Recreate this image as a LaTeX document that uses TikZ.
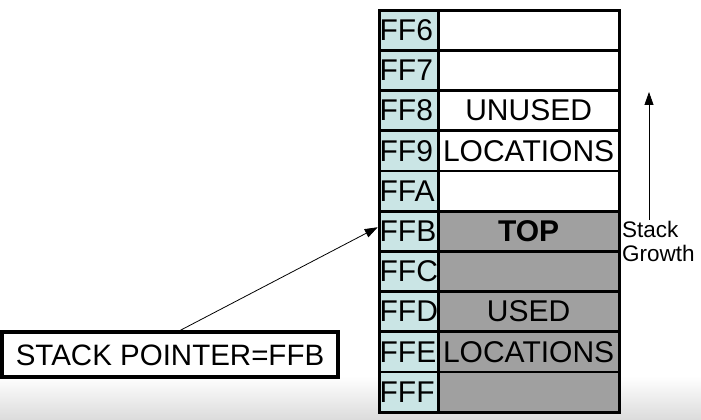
\documentclass[tikz,border=0pt]{standalone}
\usepackage{fontspec}
\setmainfont{Liberation Sans}
\usepackage{tikz}
\usetikzlibrary{positioning,matrix,arrows.meta}
\definecolor{addrcol}{RGB}{202,229,229}
\definecolor{usedcol}{RGB}{160,160,160}
\tikzstyle{arrow}     = [line width=0.8pt,-{Triangle[length=13pt,width=9pt]}]
\tikzstyle{pointer}   = [draw, line width=4pt, minimum width=336pt, minimum height=45pt, font=\fontsize{29.5}{34}\selectfont]

\begin{document}
\begin{tikzpicture}[x=1pt,y=1pt,
			stack/.style={matrix of nodes, line width=2.8pt, nodes={draw, anchor=center, minimum height=40.2pt, inner sep=1pt, font=\fontsize{30}{34}\selectfont},
					column sep=-\pgflinewidth, row sep=-\pgflinewidth, nodes in empty cells,
					column 1/.style={nodes={fill=addrcol, text width=58pt, align=left, inner xsep=0.5pt, font=\fontsize{30}{34}\selectfont}},
					column 2/.style={nodes={fill=white, minimum width=181pt}},
					row 6 column 2/.style={nodes={fill=usedcol}},
					row 7 column 2/.style={nodes={fill=usedcol}},
					row 8 column 2/.style={nodes={fill=usedcol}},
					row 9 column 2/.style={nodes={fill=usedcol}},
					row 10 column 2/.style={nodes={fill=usedcol}},
				}]
		\useasboundingbox (0,0) rectangle (701,420);
		\shade[top color=white, bottom color=black!14] (0,0) rectangle (701,44);

		\matrix[stack, anchor=north west] (stack) at (373,416) {
			FF6 &                  \\
			FF7 &                  \\
			FF8 & UNUSED           \\
			FF9 & LOCATIONS        \\
			FFA &                  \\
			FFB & \textbf{TOP}     \\
			FFC &                  \\
			FFD & USED             \\
			FFE & LOCATIONS        \\
			FFF &                  \\
		};

		% stack growth
		\node[align=left, anchor=north west, inner sep=1pt, font=\fontsize{22.5}{24}\selectfont] (growth) at (621,200) {Stack\\Growth};
		\coordinate (growth top) at (649,328);
		\draw[arrow] (growth.north -| growth top) -- (growth top);

		% stack pointer
		\node[pointer] (sp) at (170,65) {STACK POINTER=FFB};
		\draw[arrow] ([xshift=10pt]sp.north) -- ([yshift=4pt]stack-6-1.west);
	\end{tikzpicture}
\end{document}
